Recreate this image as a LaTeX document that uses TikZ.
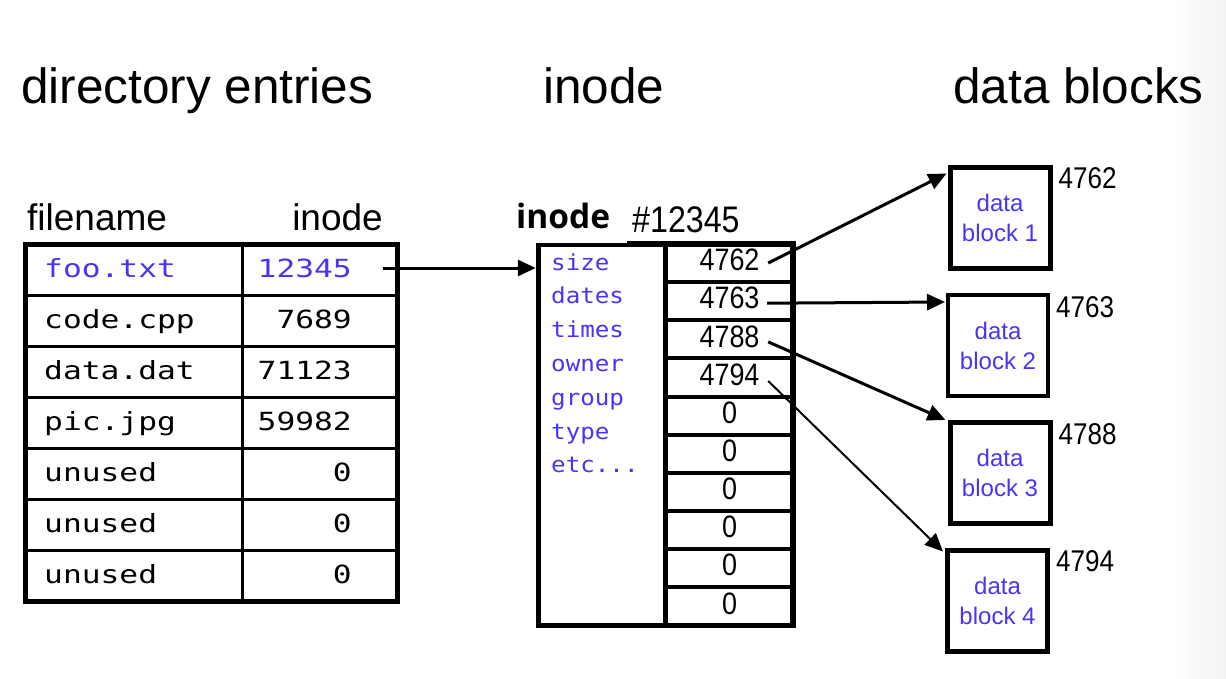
\documentclass[tikz,border=0pt]{standalone}
\usepackage{fontspec}
\setmainfont{Liberation Sans}
\newfontfamily\monofont[FakeStretch=1.25]{DejaVu Sans Mono}
\newfontfamily\fieldfont[FakeStretch=1.1]{DejaVu Sans Mono}
\newfontfamily\narrowfont[FakeStretch=0.87]{Liberation Sans}
\newfontfamily\boldfont{Open Sans}
\usetikzlibrary{arrows.meta}
\definecolor{fieldblue}{RGB}{72,52,245}
\tikzset{
	title/.style={anchor=base west, inner sep=0, font=\fontsize{49.5}{58}\selectfont},
	head/.style={inner sep=0, font=\fontsize{37}{44}\selectfont},
	fname/.style={anchor=base west, inner sep=0, font=\monofont\fontsize{25}{30}\selectfont},
	fino/.style={anchor=base east, inner sep=0, font=\monofont\fontsize{25}{30}\selectfont},
	field/.style={anchor=base west, inner sep=0, text=fieldblue, font=\fieldfont\fontsize{22}{26}\selectfont},
	slot/.style={inner sep=0, font=\narrowfont\fontsize{31}{36}\selectfont},
	block/.style={draw, line width=5pt, minimum width=100pt, minimum height=101pt, inner sep=0, align=center, text=fieldblue, font=\fontsize{24}{30}\selectfont},
	blknum/.style={anchor=base west, inner sep=0, font=\narrowfont\fontsize{30}{34}\selectfont},
	ptr/.style={line width=3pt, -{Triangle[length=18pt,width=16pt]}}
}
\begin{document}
\begin{tikzpicture}[x=1pt,y=-1pt]
	\useasboundingbox (0,0) rectangle (1226,678);
	\shade[left color=white, right color=black!5] (1175,0) rectangle (1226,678);
	\node[title] (ttlDir) at (21,103) {directory entries};
	\node[title] (ttlIno) at (543,103) {inode};
	\node[title] (ttlBlk) at (953,103) {data blocks};
	\node[head, anchor=base west] (hdName) at (27,230) {filename};
	\node[head, anchor=base east] (hdIno) at (383,230) {inode};
	\node[draw, line width=5pt, minimum width=372pt, minimum height=357pt, inner sep=0] (dirtable) at (211.5,423) {};
	\draw[line width=3.5pt] (242.5,244.5) -- (242.5,601.5);
	\foreach \i in {1,...,6}
		\draw[line width=3.5pt] (25.5,244.5+51*\i) -- (397.5,244.5+51*\i);
	\foreach \fn/\ino/\col [count=\i] in {foo.txt/12345/fieldblue, code.cpp/7689/black, data.dat/71123/black, pic.jpg/59982/black, unused/0/black, unused/0/black, unused/0/black} {
		\node[fname, text=\col] (fn\i) at (44,226.5+51*\i) {\fn};
		\node[fino, text=\col] (ino\i) at (352,226.5+51*\i) {\ino};
	}
	\node[draw, line width=5.5pt, minimum width=254.5pt, minimum height=381.5pt, inner sep=0] (inodebox) at (665.75,434.75) {};
	\draw[line width=5pt] (665.5,244) -- (665.5,625.5);
	\foreach \i in {1,...,9}
		\draw[line width=4pt] (665.5,244+38.15*\i) -- (793,244+38.15*\i);
	\fill[white] (505,195) rectangle (627,243);
	\node[anchor=base west, inner sep=0, font=\boldfont\bfseries\fontsize{33.5}{38}\selectfont] (inodelbl) at (516,228) {inode};
	\node[anchor=base west, inner sep=0, font=\narrowfont\fontsize{37}{44}\selectfont] (inodenum) at (632,232) {\#12345};
	\foreach \f [count=\i] in {size,dates,times,owner,group,type,etc.{}.{}.}
		\node[field] (fld\i) at (551,236.2+33.8*\i) {\f};
	\foreach \v [count=\i] in {4762,4763,4788,4794,0,0,0,0,0,0}
		\node[slot] (cell\i) at (729.5,244+38.15*\i-22.1) {\v};
	\node[block] (blk1) at (1000,217.5) {data\\block 1};
	\node[block, line width=4pt] (blk2) at (998,345.5) {data\\block 2};
	\node[block] (blk3) at (1000,473) {data\\block 3};
	\node[block] (blk4) at (997.5,600.5) {data\\block 4};
	\foreach \n/\v in {1/4762,2/4763,3/4788,4/4794}
		\node[blknum] (num\n) at ([shift={(6,24)}]blk\n.north east) {\v};
	\coordinate (ptr0) at ([shift={(31,-9.5)}]ino1.base east);
	\draw[ptr] (ptr0) -- (ptr0 -| inodebox.west);
	\draw[ptr] ([shift={(8.5,3)}]cell1.east) -- ([shift={(-1,9)}]blk1.north west);
	\draw[ptr] ([shift={(7.5,5)}]cell2.east) -- ([shift={(-1,9)}]blk2.north west);
	\draw[ptr] ([shift={(8.5,5.5)}]cell3.east) -- ([shift={(-2,0)}]blk3.north west);
	\draw[ptr, line width=2pt] ([shift={(8.5,6.5)}]cell4.east) -- ([shift={(-2,4)}]blk4.north west);
\end{tikzpicture}
\end{document}
